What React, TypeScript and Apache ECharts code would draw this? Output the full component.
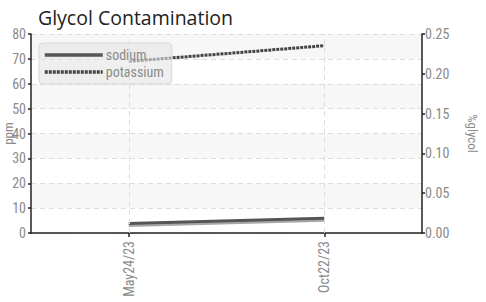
import React, { useEffect, useRef } from "react";
import * as echarts from "echarts";

const categories = ["May24/23", "Oct22/23"];
const sodium = [3.8, 5.9];
const potassium = [69.0, 75.3];
const leftTicks = { min: 0, max: 80, interval: 10 };
const rightTicks = { min: 0, max: 0.25, interval: 0.05 };

const FONT = "'Roboto Condensed', sans-serif";

export default function App() {
  const ref = useRef<HTMLDivElement>(null);
  useEffect(() => {
    const chart = echarts.init(ref.current!, null, { renderer: "svg" });
    const axisLine = { show: true, lineStyle: { color: "#222", width: 1.5 } };
    const axisTick = { show: true, length: 3, lineStyle: { color: "#222", width: 1.5 } };
    const labelStyle = { color: "#8a8a8a", fontSize: 14, fontFamily: FONT };
    chart.setOption({
      animation: false,
      backgroundColor: "#fff",
      title: {
        text: "Glycol Contamination",
        left: 33,
        top: 2,
        textStyle: { color: "#222", fontSize: 19.5, fontWeight: "normal", fontFamily: "'Open Sans', sans-serif" },
      },
      legend: {
        orient: "vertical",
        left: 39,
        top: 43,
        itemWidth: 58,
        itemHeight: 12,
        itemGap: 3,
        padding: [5, 8, 5, 4],
        backgroundColor: "rgba(228,228,228,0.6)",
        borderColor: "#d8d8d8",
        borderWidth: 1,
        borderRadius: 4,
        itemStyle: { opacity: 0 },
        textStyle: { color: "#8a8a8a", fontSize: 14, fontFamily: FONT, padding: [0, 0, 0, -2] },
        data: [
          { name: "sodium", lineStyle: { width: 3.5, color: "#555" } },
          { name: "potassium", lineStyle: { width: 3.5, color: "#444", type: [3, 1] } },
        ],
      },
      grid: { left: 31, right: 64, top: 34, bottom: 69, containLabel: false, outerBoundsMode: "none" },
      xAxis: {
        type: "category",
        data: categories,
        boundaryGap: true,
        axisLine,
        axisTick: { ...axisTick, alignWithLabel: true, length: 4 },
        axisLabel: { ...labelStyle, rotate: 90, margin: 8 },
        splitLine: { show: false },
      },
      yAxis: [
        {
          type: "value",
          ...leftTicks,
          name: "ppm",
          nameLocation: "middle",
          nameGap: 16,
          nameMoveOverlap: false,
          nameTextStyle: { ...labelStyle, fontSize: 13 },
          axisLine,
          axisTick: { ...axisTick, inside: false },
          axisLabel: { ...labelStyle, margin: 5 },
          splitLine: { show: true, lineStyle: { color: "#ddd", type: [5, 4] } },
          splitArea: { show: true, areaStyle: { color: ["rgba(255,255,255,0)", "#f7f7f7"] } },
        },
        {
          type: "value",
          ...rightTicks,
          position: "right",
          name: "%glycol",
          nameLocation: "middle",
          nameRotate: -90,
          nameGap: 44,
          nameMoveOverlap: false,
          nameTextStyle: { ...labelStyle, fontSize: 13 },
          axisLine,
          axisTick,
          axisLabel: { ...labelStyle, margin: 3, formatter: (v: number) => v.toFixed(2) },
          splitLine: { show: false },
        },
      ],
      series: [
        {
          name: "sodium",
          type: "line",
          yAxisIndex: 0,
          data: sodium,
          symbol: "none",
          color: "#555",
          lineStyle: { color: "#555", width: 3, shadowColor: "rgba(0,0,0,0.35)", shadowOffsetY: 2, shadowBlur: 1 },
          markLine: {
            silent: true,
            symbol: "none",
            label: { show: false },
            lineStyle: { color: "#ddd", type: [5, 4], width: 1 },
            data: categories.map((c) => ({ xAxis: c })),
          },
        },
        {
          name: "potassium",
          type: "line",
          yAxisIndex: 0,
          data: potassium,
          symbol: "none",
          color: "#444",
          lineStyle: { color: "#444", width: 3, type: [3, 1] },
        },
      ],
    });
    return () => chart.dispose();
  }, []);
  return <div ref={ref} style={{ position: "fixed", left: 0, top: 0, width: 486, height: 302 }} />;
}
